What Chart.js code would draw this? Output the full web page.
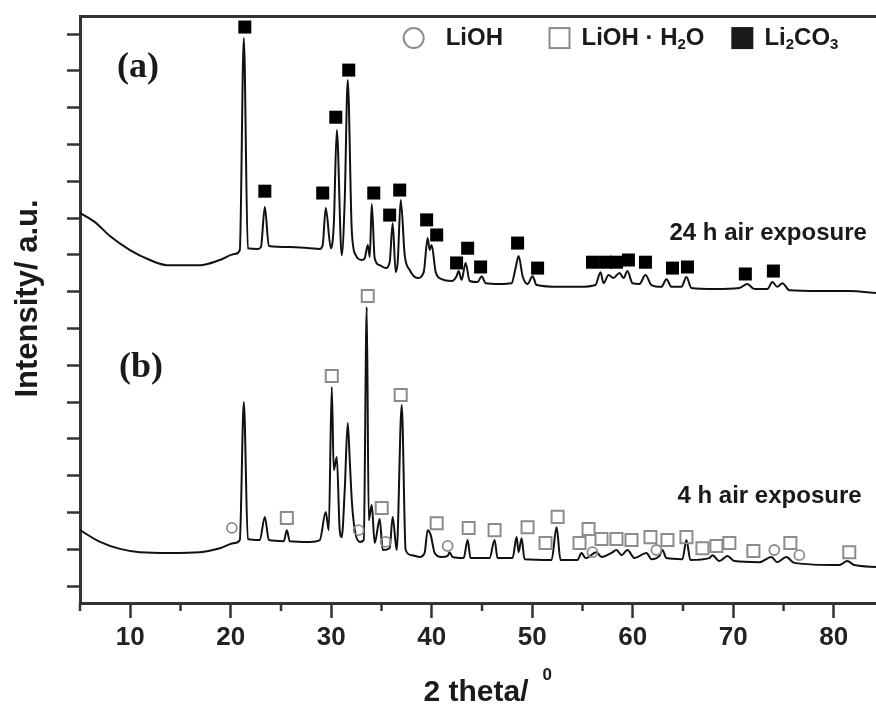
<!DOCTYPE html>
<html>
<head>
<meta charset="utf-8">
<script src="https://cdn.jsdelivr.net/npm/chart.js@4.4.1/dist/chart.umd.min.js"></script>
<style>
  html, body { margin: 0; padding: 0; background: #fff; overflow: hidden; }
  #wrap { width: 876px; height: 708px; }
</style>
</head>
<body>
<div id="wrap"><canvas id="xrdChart" width="876" height="708"></canvas></div>
<script>
// XRD patterns, 2 theta in degrees, intensity in a.u. (traces offset, as in the figure)
// (a) 24 h air exposure
const thetaA = [5.0, 6.49, 7.98, 9.97, 11.96, 13.65, 16.93, 18.92, 20.41, 20.9, 21.3, 21.7, 22.69, 23.0, 23.39, 23.79,
  25.87, 27.86, 28.86, 29.15, 29.45, 29.96, 30.25, 30.55, 31.04, 31.34, 31.64, 32.04, 32.44, 33.03, 33.33, 33.63,
  33.83, 34.03, 34.32, 34.82, 35.42, 35.81, 36.11, 36.41, 36.61, 36.91, 37.31, 37.8, 38.6, 39.2, 39.59, 39.79, 39.99,
  40.39, 40.98, 41.98, 42.47, 42.67, 42.97, 43.37, 43.77, 44.56, 44.96, 45.36, 46.75, 47.94, 48.34, 48.64, 49.04,
  49.53, 50.03, 50.43, 52.71, 54.7, 56.29, 56.79, 57.09, 57.59, 58.08, 58.68, 59.08, 59.47, 59.97, 60.67, 61.26,
  61.86, 62.85, 63.35, 63.85, 64.84, 65.34, 65.83, 68.12, 70.6, 71.4, 72.1, 73.39, 73.89, 74.38, 74.88, 75.58,
  78.56, 81.54, 84.2];
const intA = [10.14, 9.89, 9.51, 9.13, 8.86, 8.72, 8.72, 8.86, 9.02, 9.13, 14.89, 9.18, 9.16, 9.21, 10.30, 9.24,
  9.21, 9.18, 9.16, 9.27, 10.27, 9.18, 9.81, 12.39, 8.99, 10.49, 13.75, 9.67, 8.99, 8.86, 8.91, 9.27,
  8.94, 10.38, 8.91, 8.72, 8.64, 8.80, 9.86, 8.53, 8.80, 10.49, 8.99, 8.59, 8.37, 8.53, 9.46, 9.13, 9.27,
  8.53, 8.34, 8.29, 8.42, 8.56, 8.32, 8.78, 8.29, 8.26, 8.42, 8.23, 8.21, 8.23, 8.64, 8.97, 8.42,
  8.21, 8.42, 8.18, 8.13, 8.13, 8.18, 8.53, 8.23, 8.45, 8.37, 8.51, 8.37, 8.56, 8.23, 8.21, 8.45,
  8.18, 8.13, 8.34, 8.13, 8.13, 8.40, 8.10, 8.07, 8.10, 8.21, 8.07, 8.07, 8.26, 8.13, 8.23, 8.04,
  8.02, 8.02, 7.96];

// (b) 4 h air exposure
const thetaB = [5.0, 6.99, 8.98, 10.96, 13.95, 16.93, 18.92, 20.41, 20.9, 21.3, 21.7, 22.89, 23.39, 23.79, 25.28,
  25.58, 25.87, 27.86, 28.86, 29.45, 29.75, 30.05, 30.25, 30.55, 30.84, 31.04, 31.34, 31.64, 31.84, 32.04, 32.34,
  32.84, 33.23, 33.53, 33.73, 34.03, 34.32, 34.82, 35.12, 35.81, 36.11, 36.51, 37.01, 37.4, 38.0, 38.8, 39.29,
  39.59, 39.89, 40.29, 40.98, 41.58, 41.77, 42.07, 43.17, 43.57, 43.86, 45.75, 46.25, 46.55, 48.04, 48.44, 48.64,
  48.94, 49.23, 51.92, 52.42, 52.81, 54.5, 54.9, 55.3, 56.39, 56.89, 57.88, 58.38, 58.87, 59.47, 60.17, 61.36,
  61.86, 62.65, 62.95, 63.35, 64.94, 65.34, 65.73, 67.62, 67.92, 68.62, 69.42, 70.11, 72.6, 73.79, 74.38, 75.28,
  76.07, 80.55, 81.34, 82.04, 84.2];
const intB = [1.52, 1.20, 1.01, 0.92, 0.90, 0.92, 1.03, 1.17, 1.25, 5.00, 1.28, 1.25, 1.88, 1.25, 1.22,
  1.52, 1.22, 1.20, 1.25, 2.01, 1.52, 5.41, 3.15, 3.51, 1.52, 1.33, 2.61, 4.43, 3.42, 2.34, 1.52,
  1.20, 1.25, 7.58, 1.79, 2.20, 1.17, 1.82, 0.98, 1.03, 1.88, 0.98, 4.92, 0.98, 0.84, 0.79, 0.90,
  1.52, 1.39, 0.90, 0.79, 0.82, 0.92, 0.79, 0.76, 1.25, 0.76, 0.76, 1.25, 0.76, 0.76, 1.33, 0.92,
  1.30, 0.73, 0.71, 1.60, 0.71, 0.71, 0.90, 0.76, 0.92, 0.79, 0.90, 0.98, 0.84, 0.98, 0.76, 0.90,
  0.73, 0.82, 0.98, 0.76, 0.73, 1.25, 0.71, 0.76, 0.84, 0.68, 0.82, 0.68, 0.65, 0.79, 0.65, 0.79,
  0.63, 0.57, 0.68, 0.57, 0.52];

// phase markers
const li2co3Theta = [21.4, 23.39, 29.15, 30.45, 31.74, 34.23, 35.81, 36.81, 39.49, 40.49, 42.47, 43.57, 44.86,
  48.54, 50.53, 55.99, 57.29, 58.38, 59.57, 61.26, 63.95, 65.44, 71.2, 73.99];
const li2co3Int = [15.19, 10.73, 10.68, 12.74, 14.02, 10.68, 10.08, 10.76, 9.95, 9.54, 8.78, 9.18, 8.67,
  9.32, 8.64, 8.80, 8.80, 8.80, 8.86, 8.80, 8.64, 8.67, 8.48, 8.56];
const hydrateTheta = [33.63, 30.05, 36.91, 35.02, 25.58, 40.49, 43.67, 46.25, 49.53, 52.52, 51.32, 54.7, 55.6,
  56.89, 58.38, 59.87, 61.76, 63.45, 65.34, 66.93, 68.32, 69.61, 72.0, 75.68, 81.54];
const hydrateInt = [7.88, 5.71, 5.19, 2.12, 1.85, 1.71, 1.58, 1.52, 1.60, 1.88, 1.17, 1.17, 1.55,
  1.28, 1.28, 1.25, 1.33, 1.25, 1.33, 1.03, 1.09, 1.17, 0.95, 1.17, 0.92];
const liohTheta = [20.11, 32.72, 35.42, 41.58, 55.99, 62.35, 74.08, 76.57];
const liohInt = [1.58, 1.52, 1.20, 1.09, 0.92, 0.98, 0.98, 0.84];

const xTicks = [10, 20, 30, 40, 50, 60, 70, 80];
const xMinorTicks = [5, 15, 25, 35, 45, 55, 65, 75];
const yTicks = [0, 1, 2, 3, 4, 5, 6, 7, 8, 9, 10, 11, 12, 13, 14, 15];

const legendNames = [['LiOH'], ['LiOH \u00b7 H', '_2', 'O'], ['Li', '_2', 'CO', '_3']];
const panelNames = ['(a)', '(b)'];
const sampleNames = ['24 h air exposure', '4 h air exposure'];

const SANS = '"Liberation Sans", Arial, sans-serif';
const SERIF = '"Liberation Serif", "Times New Roman", serif';
const GREY = '#8c8c8c';

const pts = (xs, ys) => xs.map((x, i) => ({ x: x, y: ys[i] }));

function drawRich(ctx, parts, x, y, size) {
  let cx = x;
  parts.forEach((p) => {
    const sub = p.charAt(0) === '_';
    const txt = sub ? p.slice(1) : p;
    ctx.font = 'bold ' + (sub ? Math.round(size * 0.62) : size) + 'px ' + SANS;
    ctx.fillText(txt, cx, sub ? y + size * 0.3 : y);
    cx += ctx.measureText(txt).width;
  });
}

// text, legend and minor ticks, placed through the scales
const decorations = {
  id: 'decorations',
  afterDraw(chart) {
    const { ctx, chartArea } = chart;
    const x = chart.scales.x;
    const y = chart.scales.y;
    ctx.save();
    ctx.fillStyle = '#1a1a1a';
    ctx.textBaseline = 'middle';
    ctx.textAlign = 'left';

    // minor ticks
    ctx.strokeStyle = '#333';
    ctx.lineWidth = 2.5;
    xMinorTicks.forEach((v) => {
      const px = x.getPixelForValue(v);
      ctx.beginPath();
      ctx.moveTo(px, chartArea.bottom);
      ctx.lineTo(px, chartArea.bottom + 8);
      ctx.stroke();
    });

    // panel labels
    ctx.font = 'bold 36px ' + SERIF;
    ctx.textAlign = 'center';
    const panelAt = [[10.76, 14.08], [11.06, 5.92]];
    panelNames.forEach((t, i) => {
      ctx.fillText(t, x.getPixelForValue(panelAt[i][0]), y.getPixelForValue(panelAt[i][1]));
    });

    // sample labels
    ctx.textAlign = 'left';
    ctx.font = 'bold 24px ' + SANS;
    const sampleAt = [[63.65, 9.59], [64.45, 2.45]];
    sampleNames.forEach((t, i) => {
      ctx.fillText(t, x.getPixelForValue(sampleAt[i][0]), y.getPixelForValue(sampleAt[i][1]));
    });

    // legend
    const legY = y.getPixelForValue(14.89);
    const cxc = x.getPixelForValue(38.2);
    ctx.strokeStyle = GREY;
    ctx.lineWidth = 2;
    ctx.beginPath();
    ctx.arc(cxc, legY, 10, 0, Math.PI * 2);
    ctx.stroke();
    const sq = x.getPixelForValue(52.71);
    ctx.strokeRect(sq - 10, legY - 10, 20, 20);
    const fs = x.getPixelForValue(70.9);
    ctx.fillRect(fs - 11, legY - 11, 22, 22);
    const textAt = [41.38, 54.9, 73.1];
    legendNames.forEach((parts, i) => {
      drawRich(ctx, parts, x.getPixelForValue(textAt[i]), legY, 24);
    });

    // axis titles
    ctx.textAlign = 'center';
    ctx.font = 'bold 31px ' + SANS;
    ctx.save();
    ctx.translate(chartArea.left - 52, (chartArea.top + chartArea.bottom) / 2 - 11);
    ctx.rotate(-Math.PI / 2);
    ctx.fillText('Intensity/ a.u.', 0, 0);
    ctx.restore();

    ctx.textAlign = 'left';
    ctx.font = 'bold 30px ' + SANS;
    const main = '2 theta/';
    const w = ctx.measureText(main).width;
    const tx = (chartArea.left + chartArea.right) / 2 + 10 - (w + 24) / 2;
    ctx.fillText(main, tx, chartArea.bottom + 90);
    ctx.font = 'bold 17px ' + SANS;
    ctx.fillText('0', tx + w + 14, chartArea.bottom + 72);
    ctx.restore();
  }
};

function initXrdChart() {
  const ctx = document.getElementById('xrdChart').getContext('2d');
  Chart.defaults.animation = false;

  const axisLine = { display: true, width: 3, color: '#333' };
  const trace = {
    type: 'line',
    borderColor: '#111',
    borderWidth: 2,
    pointRadius: 0,
    cubicInterpolationMode: 'monotone',
    order: 2
  };

  new Chart(ctx, {
    type: 'scatter',
    data: {
      datasets: [
        Object.assign({ label: '24 h air exposure', data: pts(thetaA, intA) }, trace),
        Object.assign({ label: '4 h air exposure', data: pts(thetaB, intB) }, trace),
        {
          label: 'Li2CO3',
          data: pts(li2co3Theta, li2co3Int),
          pointStyle: 'rect',
          pointRadius: 9.2,
          backgroundColor: '#000',
          borderWidth: 0,
          order: 1
        },
        {
          label: 'LiOH·H2O',
          data: pts(hydrateTheta, hydrateInt),
          pointStyle: 'rect',
          pointRadius: 8.5,
          backgroundColor: 'rgba(255,255,255,0)',
          borderColor: GREY,
          borderWidth: 2,
          order: 1
        },
        {
          label: 'LiOH',
          data: pts(liohTheta, liohInt),
          pointStyle: 'circle',
          pointRadius: 5,
          backgroundColor: 'rgba(255,255,255,0)',
          borderColor: GREY,
          borderWidth: 1.8,
          order: 1
        }
      ]
    },
    options: {
      responsive: false,
      animation: false,
      devicePixelRatio: 1,
      layout: { padding: 0, autoPadding: false },
      plugins: {
        legend: { display: false },
        tooltip: { enabled: false }
      },
      scales: {
        x: {
          type: 'linear',
          position: 'bottom',
          min: 5,
          max: 84.2,
          afterBuildTicks: (s) => { s.ticks = xTicks.map((v) => ({ value: v })); },
          afterFit: (s) => { s.height = 105; s.paddingLeft = 0; s.paddingRight = 0; },
          ticks: {
            maxRotation: 0,
            padding: 4,
            color: '#222',
            font: { family: SANS, size: 26, weight: 'bold' }
          },
          grid: { drawOnChartArea: false, tickLength: 15, tickWidth: 2.5, tickColor: '#333' },
          border: axisLine
        },
        x2: {
          type: 'linear',
          position: 'top',
          min: 5,
          max: 84.2,
          afterFit: (s) => { s.height = 16; s.paddingLeft = 0; s.paddingRight = 0; },
          ticks: { display: false },
          grid: { drawOnChartArea: false, drawTicks: false },
          border: axisLine
        },
        y: {
          type: 'linear',
          min: -0.46,
          max: 15.49,
          afterBuildTicks: (s) => { s.ticks = yTicks.map((v) => ({ value: v })); },
          afterFit: (s) => { s.width = 80; s.paddingTop = 0; s.paddingBottom = 0; },
          ticks: { display: false },
          grid: { drawOnChartArea: false, tickLength: 13, tickWidth: 2.5, tickColor: '#333' },
          border: axisLine
        }
      }
    },
    plugins: [decorations]
  });
}

initXrdChart();
</script>
</body>
</html>
